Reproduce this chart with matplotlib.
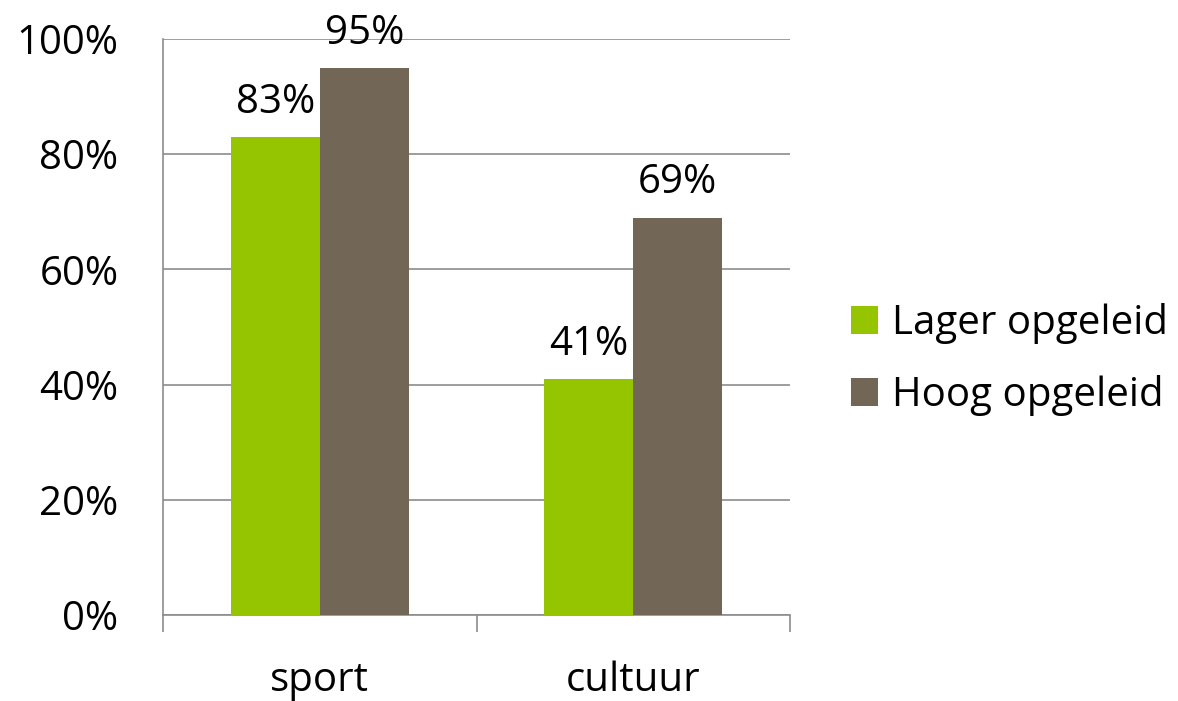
import matplotlib.pyplot as plt
import numpy as np

plt.rcParams['font.family'] = ['Open Sans', 'DejaVu Sans']

categorieen = ["sport", "cultuur"]
lager = [83, 41]
hoog = [95, 69]
reeksen = ["Lager opgeleid", "Hoog opgeleid"]
kleuren = ["#95C500", "#726757"]

fs = 29

fig = plt.figure(figsize=(11.78, 7.01), dpi=100)
ax = fig.add_axes([163 / 1178, 1 - 615 / 701, 627 / 1178, 576 / 701])

x = np.arange(len(categorieen))
breedte = 0.284
b1 = ax.bar(x - breedte / 2, lager, breedte, color=kleuren[0], label=reeksen[0], zorder=3)
b2 = ax.bar(x + breedte / 2, hoog, breedte, color=kleuren[1], label=reeksen[1], zorder=3)

for bars in (b1, b2):
    for b in bars:
        ax.text(b.get_x() + b.get_width() / 2, b.get_height() + 4.2,
                "%d%%" % b.get_height(), ha="center", va="baseline", fontsize=fs)

ax.set_xlim(-0.5, 1.5)
ax.set_ylim(0, 100)
ax.set_yticks(range(0, 101, 20))
ax.set_yticklabels(["%d%%" % v for v in range(0, 101, 20)], fontsize=fs)
ax.yaxis.grid(True, color="#8c8c8c", linewidth=1.2, zorder=0)
ax.tick_params(axis="y", length=0, pad=32)

ax.set_xticks([-0.5, 0.5, 1.5])
ax.set_xticklabels([])
ax.set_xticks(x, minor=True)
ax.set_xticklabels(categorieen, minor=True, fontsize=fs)
ax.tick_params(axis="x", which="major", length=12, width=1.2, color="#8c8c8c", direction="out")
ax.tick_params(axis="x", which="minor", length=0, pad=33)

for s in ["top", "right"]:
    ax.spines[s].set_visible(False)
for s in ["left", "bottom"]:
    ax.spines[s].set_color("#8c8c8c")
    ax.spines[s].set_linewidth(1.2)

ax.legend(loc="center left", bbox_to_anchor=(851 / 1178, 1 - 359.5 / 701), bbox_transform=fig.transFigure,
          frameon=False, fontsize=fs, handlelength=0.67, handleheight=0.67,
          handletextpad=0.35, labelspacing=0.77, borderpad=0, borderaxespad=0)

fig.savefig("out.png", dpi=100)
